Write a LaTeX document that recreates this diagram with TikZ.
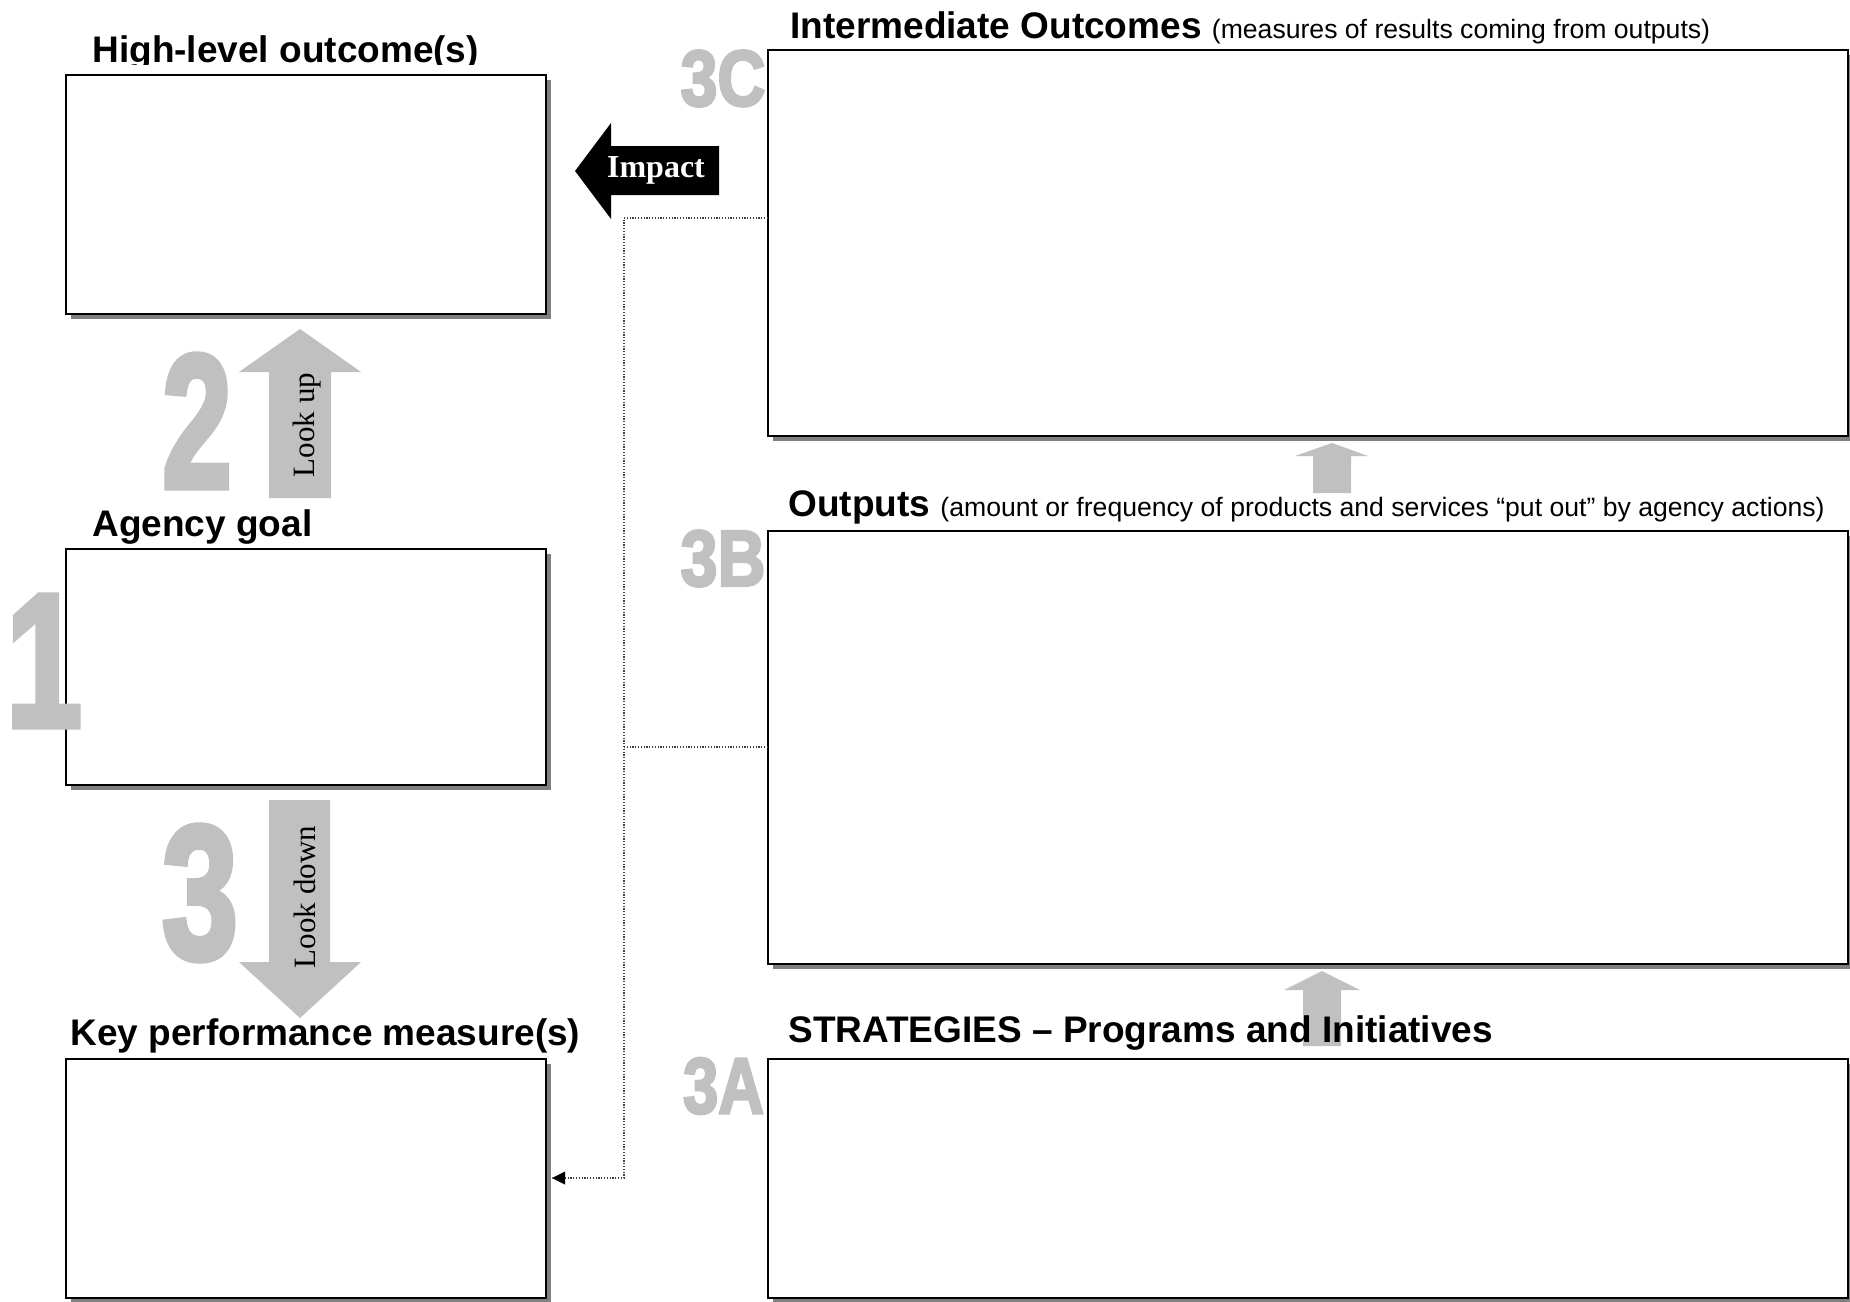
\documentclass[tikz,border=0pt]{standalone}
\usepackage{fontspec}
\usepackage{graphicx}
\setmainfont{Liberation Sans}
\newfontfamily\serifface{Liberation Serif}
\newfontfamily\heavyface[FakeBold=3.5]{Liberation Sans Bold}
\newcommand\asidesize{\fontsize{13.3}{16}\selectfont\mdseries}
\usetikzlibrary{shadows,arrows.meta}
\definecolor{numgray}{HTML}{C0C0C0}
\definecolor{shadowgray}{HTML}{808080}
\definecolor{dotgray}{HTML}{404040}
\begin{document}
\begin{tikzpicture}[x=0.5pt,y=-0.5pt,
  panel/.style={draw=black, line width=1pt, fill=white, inner sep=0pt, outer sep=0pt,
    anchor=north west,
    drop shadow={shadow xshift=2.5pt, shadow yshift=-2.5pt, fill=shadowgray, opacity=1}},
  heading/.style={anchor=base west, inner sep=0pt, font=\fontsize{18.5}{22}\selectfont\bfseries},
  bigdigit/.style={text=numgray, inner sep=0pt, font=\heavyface\fontsize{95}{95}\selectfont},
  tag/.style={text=numgray, inner sep=0pt, font=\heavyface\fontsize{39.5}{40}\selectfont},
  blockarrow/.style={fill=numgray, draw=none},
  dotlink/.style={draw=dotgray, line width=0.6pt, dash pattern=on 0.6pt off 0.8pt},
  steplabel/.style={font=\serifface\fontsize{15.5}{18}\selectfont, rotate=90, inner sep=0pt}]

% canvas
\fill[white] (0,0) rectangle (1850,1301);
\useasboundingbox (0,0) rectangle (1850,1301);

% left column panels
\node[panel, minimum width=240pt, minimum height=119.5pt] (boxH) at (66,75) {};
\node[panel, minimum width=240pt, minimum height=118pt]   (boxG) at (66,549) {};
\node[panel, minimum width=240pt, minimum height=119.5pt] (boxK) at (66,1059) {};

% right column panels
\node[panel, minimum width=540pt, minimum height=193pt]   (boxC) at (768,50) {};
\node[panel, minimum width=540pt, minimum height=216.5pt] (boxB) at (768,531) {};
\node[panel, minimum width=540pt, minimum height=119.5pt] (boxA) at (768,1059) {};

% dotted feedback line from the right column to the measures panel
\coordinate (turnTop) at (624,218);
\coordinate (turnMid) at (624,747);
\coordinate (turnBot) at (624,1178);
\draw[dotlink] (boxC.west |- turnTop) -- (turnTop) -- (turnBot)
  -- ([xshift=3pt]boxK.east |- turnBot);
\fill[black] ([xshift=3pt]boxK.east |- turnBot) -- ++(13,-6.5) -- ++(0,13) -- cycle;
\draw[dotlink] (boxB.west |- turnMid) -- (turnMid);

% headings
\begin{scope}
  \clip (0,0) rectangle (760,64);
  \node[heading] (tH) at (92,62) {High-level outcome(s)};
\end{scope}
\node[heading] (tG) at (92,536) {Agency goal};
\node[heading] (tK) at (70,1045) {Key performance measure(s)};
\node[heading] (tC) at (790,39) {Intermediate Outcomes {\asidesize (measures of results coming from outputs)}};
\node[heading] (tB) at (788,516) {Outputs {\asidesize (amount or frequency of products and services “put out” by agency actions)}};

% small upward arrows between the right panels
\fill[blockarrow] (1313,493) -- (1313,456) -- (1295,456) -- (1332,443) -- (1368,456)
  -- (1351,456) -- (1351,493) -- cycle;
\fill[blockarrow] (1303,1046) -- (1303,990) -- (1284,990) -- (1322,971) -- (1360,990)
  -- (1341,990) -- (1341,1046) -- cycle;
\node[heading] (tA) at (788,1042) {STRATEGIES – Programs and Initiatives};

% look up / look down arrows
\fill[blockarrow] (269,498) -- (269,372) -- (239,372) -- (300,329) -- (361,372)
  -- (331,372) -- (331,498) -- cycle;
\node[steplabel] (lookup) at (307,425) {Look up};
\fill[blockarrow] (269,800) -- (330,800) -- (330,962) -- (361,962) -- (300,1018)
  -- (239,962) -- (269,962) -- cycle;
\node[steplabel] (lookdown) at (305,897) {Look down};

% impact arrow
\fill[black] (575,171) -- (611,123) -- (611,146) -- (719,146) -- (719,195)
  -- (611,195) -- (611,219) -- cycle;
\node[anchor=base, inner sep=0pt, text=white, font=\serifface\bfseries\fontsize{16}{18}\selectfont]
  (impact) at (656,177) {Impact};

% step numbers
\node[bigdigit] (n1) at (44,661)  {\scalebox{0.72}[1]{1}};
\node[bigdigit] (n2) at (197,421) {\scalebox{0.66}[1]{2}};
\node[bigdigit] (n3) at (200,893) {\scalebox{0.72}[1]{3}};
\node[tag] (n3C) at (723,78.5)  {\scalebox{0.84}[1]{3C}};
\node[tag] (n3B) at (723,558.5) {\scalebox{0.84}[1]{3B}};
\node[tag] (n3A) at (723.5,1086) {\scalebox{0.80}[1]{3A}};
\end{tikzpicture}
\end{document}
